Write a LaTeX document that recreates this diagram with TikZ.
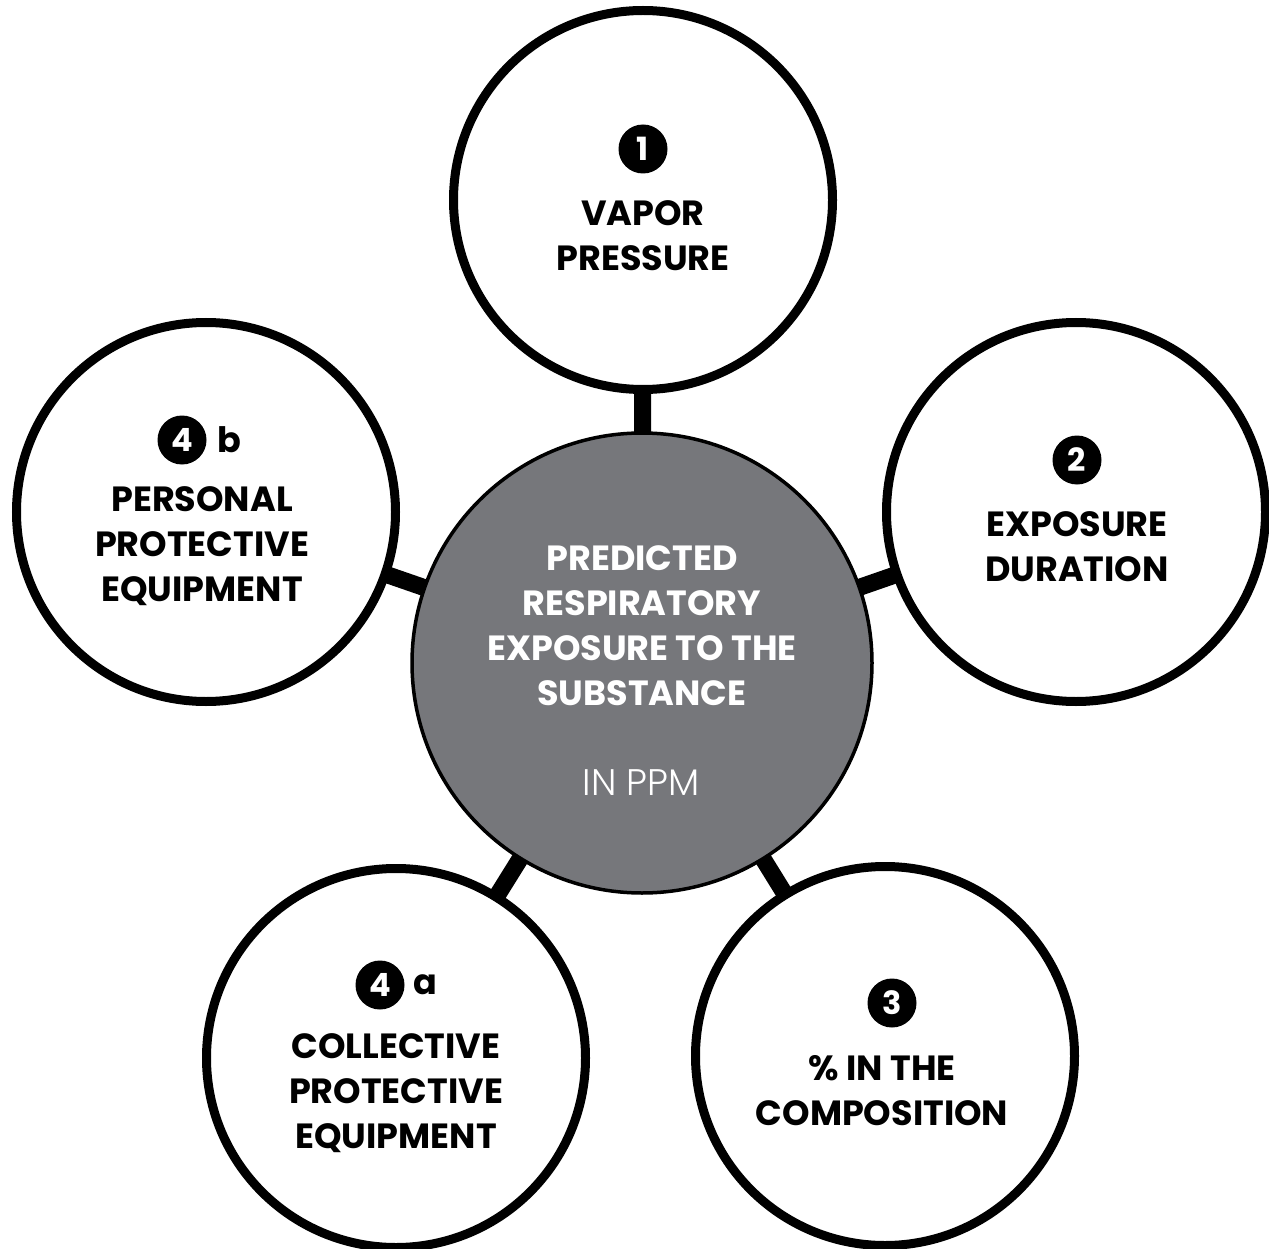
\documentclass[tikz,border=0pt]{standalone}
\usepackage{fontspec}
\setmainfont{Poppins}
\newfontfamily\thinfont{Poppins Light}
\usetikzlibrary{backgrounds}
\definecolor{hubgray}{HTML}{76777B}
\begin{document}
\begin{tikzpicture}[x=1pt,y=-1pt,
  factor/.style={circle,draw=black,fill=white,line width=9pt,minimum size=379pt,inner sep=0pt},
  hub/.style={circle,draw=black,fill=hubgray,line width=3.5pt,minimum size=460pt,inner sep=0pt},
  link/.style={line width=17pt,draw=black},
  factortext/.style={font=\fontsize{35}{45}\selectfont\bfseries,align=center,text=black,inner sep=0pt},
  hubtext/.style={font=\fontsize{35}{45}\selectfont\bfseries,align=center,text=white,inner sep=0pt},
  badge/.style={circle,fill=black,text=white,minimum size=49pt,inner sep=0pt,font=\fontsize{32}{32}\selectfont\bfseries},
  suffix/.style={font=\fontsize{35}{35}\selectfont\bfseries,text=black,inner sep=0pt},
  ]
\useasboundingbox (0,0) rectangle (1269,1249);

% hub and the five factors
\node[hub] (hub) at (642,663) {};
\node[factor] (vap) at (643,200) {};
\node[factor] (dur) at (1076,512) {};
\node[factor] (ppe) at (206,512) {};
\node[factor] (cpe) at (396,1058) {};
\node[factor] (pct) at (885,1056) {};

% spokes behind the circles
\begin{scope}[on background layer]
  \foreach \f in {vap,dur,ppe,cpe,pct}
    \draw[link] (hub.center) -- (\f.center);
\end{scope}

% hub text
\node[hubtext] (hubt) at (642,626) {PREDICTED\\RESPIRATORY\\EXPOSURE TO THE\\SUBSTANCE};
\node[font=\fontsize{37}{37}\selectfont\thinfont,text=white,inner sep=0pt] (ppm) at (641,783) {IN PPM};

% factor 1
\node[badge] (b1) at (643,149) {1};
\node[factortext] (t1) at (643,236) {VAPOR\\PRESSURE};

% factor 2
\node[badge] (b2) at (1077,460) {2};
\node[factortext] (t2) at (1077,547) {EXPOSURE\\DURATION};

% factor 3
\node[badge] (b3) at (892,1003) {3};
\node[factortext] (t3) at (882,1091) {\% IN THE\\COMPOSITION};

% factor 4a
\node[badge] (b4a) at (380,985) {4};
\node[suffix] (s4a) at (425,985) {a};
\node[factortext] (t4a) at (396,1093) {COLLECTIVE\\PROTECTIVE\\EQUIPMENT};

% factor 4b
\node[badge] (b4b) at (182,440) {4};
\node[suffix] (s4b) at (229,440) {b};
\node[factortext] (t4b) at (202,546) {PERSONAL\\PROTECTIVE\\EQUIPMENT};
\end{tikzpicture}
\end{document}
